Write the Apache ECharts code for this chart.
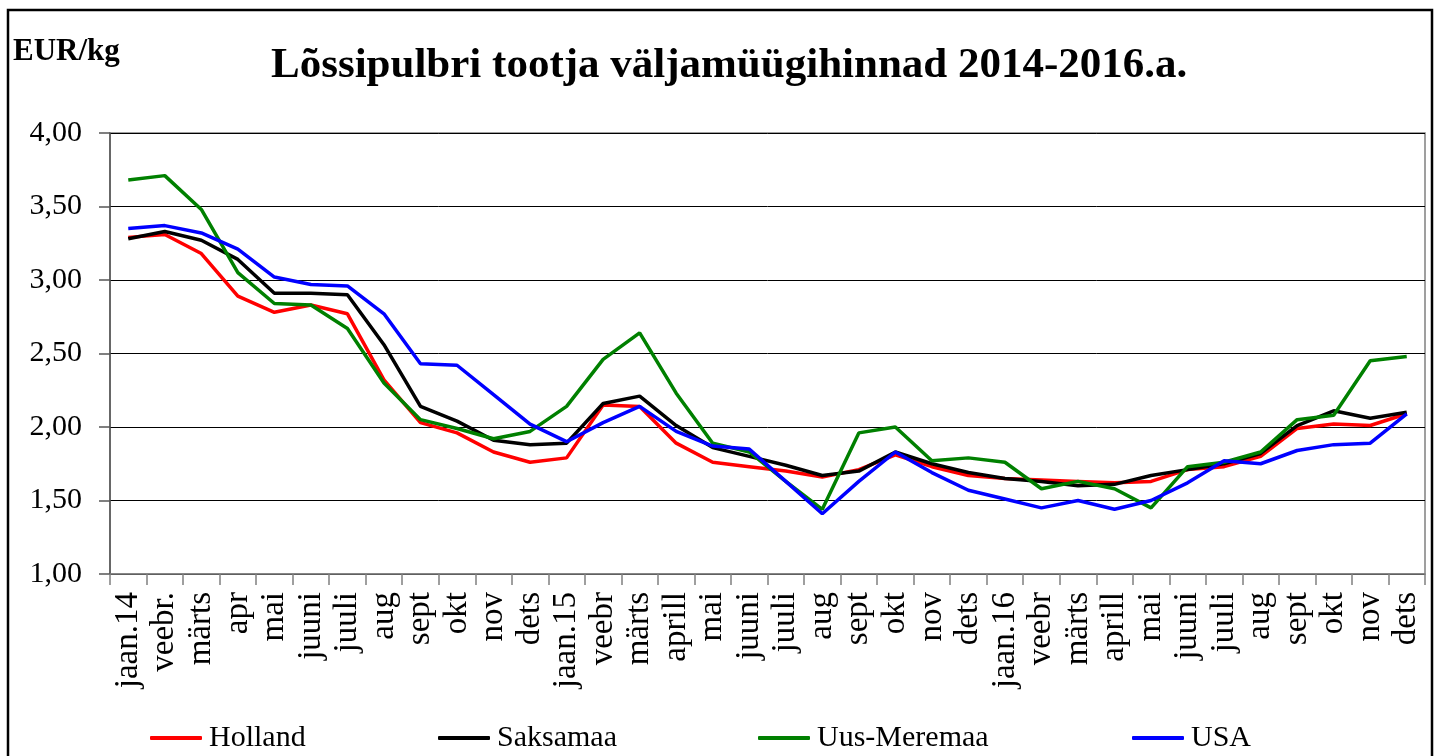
<!DOCTYPE html>
<html>
<head>
<meta charset="utf-8">
<title>Lõssipulbri tootja väljamüügihinnad</title>
<script src="https://cdn.jsdelivr.net/npm/echarts@6/dist/echarts.min.js"></script>
<style>
  html, body { margin: 0; padding: 0; background: #fff; }
  #main { width: 1435px; height: 756px; }
</style>
</head>
<body>
<div id="main"></div>
<script type="text/javascript">
    // kuud 2014-2016
    var months = ['jaan.14', 'veebr.', 'märts', 'apr', 'mai', 'juuni', 'juuli', 'aug', 'sept', 'okt', 'nov', 'dets',
                  'jaan.15', 'veebr', 'märts', 'aprill', 'mai', 'juuni', 'juuli', 'aug', 'sept', 'okt', 'nov', 'dets',
                  'jaan.16', 'veebr', 'märts', 'aprill', 'mai', 'juuni', 'juuli', 'aug', 'sept', 'okt', 'nov', 'dets'];

    var holland    = [3.29, 3.31, 3.18, 2.89, 2.78, 2.83, 2.77, 2.32, 2.03, 1.96, 1.83, 1.76,
                      1.79, 2.15, 2.14, 1.89, 1.76, 1.73, 1.70, 1.66, 1.71, 1.81, 1.73, 1.67,
                      1.65, 1.64, 1.63, 1.62, 1.63, 1.71, 1.73, 1.80, 1.99, 2.02, 2.01, 2.09];
    var saksamaa   = [3.28, 3.33, 3.27, 3.14, 2.91, 2.91, 2.90, 2.56, 2.14, 2.04, 1.91, 1.88,
                      1.89, 2.16, 2.21, 2.01, 1.86, 1.80, 1.74, 1.67, 1.70, 1.83, 1.75, 1.69,
                      1.65, 1.63, 1.60, 1.61, 1.67, 1.71, 1.75, 1.82, 2.01, 2.11, 2.06, 2.10];
    var uusMeremaa = [3.68, 3.71, 3.48, 3.05, 2.84, 2.83, 2.67, 2.30, 2.05, 1.99, 1.92, 1.97,
                      2.14, 2.46, 2.64, 2.23, 1.89, 1.83, 1.63, 1.44, 1.96, 2.00, 1.77, 1.79,
                      1.76, 1.58, 1.63, 1.58, 1.45, 1.73, 1.76, 1.83, 2.05, 2.08, 2.45, 2.48];
    var usa        = [3.35, 3.37, 3.32, 3.21, 3.02, 2.97, 2.96, 2.77, 2.43, 2.42, 2.22, 2.02,
                      1.90, 2.03, 2.14, 1.97, 1.87, 1.85, 1.63, 1.41, 1.63, 1.83, 1.69, 1.57,
                      1.51, 1.45, 1.50, 1.44, 1.50, 1.62, 1.77, 1.75, 1.84, 1.88, 1.89, 2.09];

    var seriesNames  = ['Holland', 'Saksamaa', 'Uus-Meremaa', 'USA'];
    var seriesData   = [holland, saksamaa, uusMeremaa, usa];
    var seriesColors = ['#ff0000', '#000000', '#008000', '#0000ff'];
    var legendLeft   = [145, 433, 753, 1127];

    var font = 'Liberation Serif, Times New Roman, serif';

    var myChart = echarts.init(document.getElementById('main'));

    var series = [];
    var legends = [];
    for (var i = 0; i < seriesNames.length; i++) {
        series.push({
            name: seriesNames[i],
            type: 'line',
            data: seriesData[i],
            symbol: 'none',
            lineStyle: { color: seriesColors[i], width: 3.5 },
            itemStyle: { color: seriesColors[i] }
        });
        legends.push({
            data: [seriesNames[i]],
            left: legendLeft[i],
            top: 718,
            icon: 'roundRect',
            itemWidth: 52,
            itemHeight: 4,
            selectedMode: false,
            textStyle: { fontFamily: font, fontSize: 30, color: '#000', padding: [0, 0, 0, 2] }
        });
    }

    var option = {
        animation: false,
        backgroundColor: '#fff',
        title: [
            {
                text: 'Lõssipulbri tootja väljamüügihinnad 2014-2016.a.',
                left: 271,
                top: 44,
                padding: 0,
                textStyle: { fontFamily: font, fontSize: 43, fontWeight: 'bold', color: '#000' }
            },
            {
                text: 'EUR/kg',
                left: 13,
                top: 36,
                padding: 0,
                textStyle: { fontFamily: font, fontSize: 31, fontWeight: 'bold', color: '#000' }
            }
        ],
        legend: legends,
        graphic: [
            {
                type: 'rect',
                shape: { x: 8, y: 10, width: 1424, height: 770 },
                style: { fill: 'none', stroke: '#000', lineWidth: 2.5 },
                silent: true
            }
        ],
        grid: {
            left: 110,
            right: 10,
            top: 133,
            bottom: 182,
            show: true,
            borderColor: '#808080',
            borderWidth: 1.5
        },
        xAxis: {
            type: 'category',
            data: months,
            boundaryGap: true,
            axisLine: { lineStyle: { color: '#808080', width: 1.5 } },
            axisTick: { show: true, length: 11, interval: 0, lineStyle: { color: '#808080', width: 1.5 } },
            axisLabel: {
                interval: 0,
                rotate: 90,
                margin: 18,
                fontFamily: font,
                fontSize: 33,
                color: '#000'
            }
        },
        yAxis: {
            type: 'value',
            min: 1,
            max: 4,
            interval: 0.5,
            axisLine: { show: true, lineStyle: { color: '#555', width: 1.5 } },
            axisTick: { show: true, length: 11, lineStyle: { color: '#555', width: 1.5 } },
            splitLine: { lineStyle: { color: '#000', width: 1 } },
            axisLabel: {
                margin: 28,
                fontFamily: font,
                fontSize: 30,
                color: '#000',
                formatter: function (v) { return v.toFixed(2).replace('.', ','); }
            }
        },
        series: series
    };

    myChart.setOption(option);
</script>
</body>
</html>
